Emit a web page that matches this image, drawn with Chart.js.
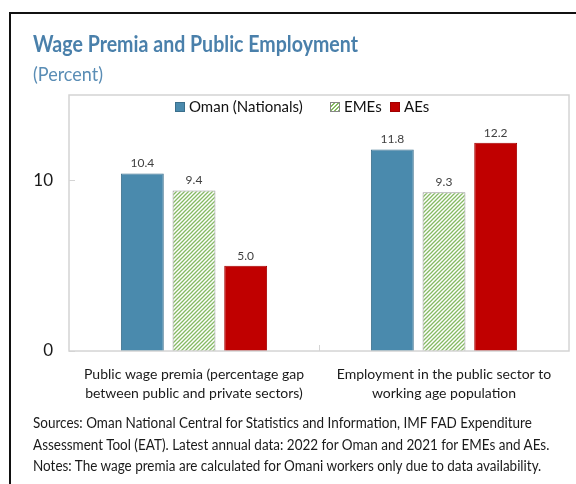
<!DOCTYPE html>
<html>
<head>
<meta charset="utf-8">
<script src="https://cdn.jsdelivr.net/npm/chart.js@4.4.1/dist/chart.umd.min.js"></script>
<style>
  html, body { margin: 0; padding: 0; background: #fff; }
  #wrap { position: relative; width: 576px; height: 484px; overflow: hidden; font-family: Lato, "Noto Sans", sans-serif; }
  #frame { position: absolute; left: 9px; top: 12px; width: 600px; height: 500px; border-left: 2px solid #111; border-top: 2px solid #111; }
  #chart { position: absolute; left: 0; top: 0; }
  .title { position: absolute; left: 33px; top: 30px; font-size: 22px; font-weight: 700; color: #4a80ab; white-space: nowrap; transform: scaleX(0.89); transform-origin: 0 0; }
  .subtitle { position: absolute; left: 33px; top: 61px; font-size: 20px; color: #5a8db5; white-space: nowrap; transform: scaleX(0.9); transform-origin: 0 0; }
  .legend { position: absolute; left: 0; top: 98px; width: 576px; font-size: 15px; color: #111; white-space: nowrap; }
  .legend .item { position: absolute; top: 0; }
  .legend .sw { position: absolute; top: 4px; width: 10px; height: 10px; box-sizing: border-box; }
  .legend .txt { position: absolute; left: 14px; top: -1px; }
  .notes { position: absolute; left: 33px; top: 412px; font-size: 14.5px; line-height: 21.5px; color: #1a1a1a; white-space: nowrap; transform: scaleX(0.93); transform-origin: 0 0; }
</style>
</head>
<body>
<div id="wrap">
  <canvas id="chart" width="576" height="484"></canvas>
  <div id="frame"></div>
  <div class="title">Wage Premia and Public Employment</div>
  <div class="subtitle">(Percent)</div>
  <div class="legend">
    <div class="item" style="left:175px"><span class="sw" style="background:#4a8aad;border:1px solid #3b6f8c"></span><span class="txt">Oman (Nationals)</span></div>
    <div class="item" style="left:330px"><span class="sw" style="border:1px solid #888;background:repeating-linear-gradient(135deg,#fff 0 1.5px,#86ba64 1.5px 3px)"></span><span class="txt">EMEs</span></div>
    <div class="item" style="left:390px"><span class="sw" style="background:#c00000;border:1px solid #a00000"></span><span class="txt">AEs</span></div>
  </div>
  <div class="notes">
    Sources: Oman National Central for Statistics and Information, IMF FAD Expenditure<br>
    Assessment Tool (EAT). Latest annual data: 2022 for Oman and 2021 for EMEs and AEs.<br>
    Notes: The wage premia are calculated for Omani workers only due to data availability.
  </div>
</div>
<script>
  const categories = [
    ["Public wage premia (percentage gap", "between public and private sectors)"],
    ["Employment in the public sector to", "working age population"]
  ];
  const omanValues = [10.4, 11.8];
  const emeValues = [9.4, 9.3];
  const aeValues = [5.0, 12.2];
  const yTicks = [0, 10];

  const FONT = "Lato, 'Noto Sans', sans-serif";

  // diagonal green hatch for the EME bars
  function hatch() {
    const p = document.createElement("canvas");
    p.width = 4; p.height = 4;
    const c = p.getContext("2d");
    c.fillStyle = "#fff";
    c.fillRect(0, 0, 4, 4);
    c.strokeStyle = "#86ba64";
    c.lineWidth = 1.3;
    c.beginPath();
    c.moveTo(-1, 5); c.lineTo(5, -1);
    c.moveTo(-1, 1); c.lineTo(1, -1);
    c.moveTo(3, 5); c.lineTo(5, 3);
    c.stroke();
    return c.createPattern(p, "repeat");
  }

  const GRID = "#d4d4d4";

  // plot frame and inward tick marks
  const frame = {
    id: "frame",
    afterDraw(chart) {
      const { ctx, chartArea: a, scales } = chart;
      ctx.save();
      ctx.strokeStyle = GRID;
      ctx.lineWidth = 1.5;
      ctx.strokeRect(a.left, a.top, a.right - a.left, a.bottom - a.top);
      ctx.lineWidth = 1;
      ctx.beginPath();
      yTicks.forEach((v) => {
        const y = Math.round(scales.y.getPixelForValue(v)) + 0.5;
        ctx.moveTo(a.left, y); ctx.lineTo(a.left + 6, y);
      });
      const mid = Math.round((a.left + a.right) / 2) + 0.5;
      ctx.moveTo(mid, a.bottom); ctx.lineTo(mid, a.bottom - 6);
      ctx.stroke();
      ctx.restore();
    }
  };

  // value labels above each bar
  const valueLabels = {
    id: "valueLabels",
    afterDatasetsDraw(chart) {
      const { ctx } = chart;
      ctx.save();
      ctx.font = "12px " + FONT;
      ctx.fillStyle = "#404040";
      ctx.textAlign = "center";
      ctx.textBaseline = "bottom";
      chart.data.datasets.forEach((ds, i) => {
        chart.getDatasetMeta(i).data.forEach((bar, j) => {
          ctx.fillText(ds.data[j].toFixed(1), bar.x, bar.y - 4);
        });
      });
      ctx.restore();
    }
  };

  const barOpts = { barPercentage: 0.83, categoryPercentage: 0.62, borderWidth: 1 };

  new Chart(document.getElementById("chart"), {
    type: "bar",
    data: {
      labels: categories,
      datasets: [
        { label: "Oman (Nationals)", data: omanValues, backgroundColor: "#4a8aad", borderColor: "#3b6f8c", ...barOpts },
        { label: "EMEs", data: emeValues, backgroundColor: hatch(), borderColor: "#999", ...barOpts },
        { label: "AEs", data: aeValues, backgroundColor: "#c00000", borderColor: "#a80000", ...barOpts }
      ]
    },
    options: {
      responsive: false,
      animation: false,
      layout: { padding: { left: 0, top: 95, right: 7, bottom: 0 } },
      plugins: { legend: { display: false }, tooltip: { enabled: false } },
      scales: {
        x: {
          grid: { display: false, drawTicks: false },
          border: { display: false },
          ticks: { color: "#1a1a1a", padding: 14, font: { size: 14, family: FONT, lineHeight: 1.38 } },
          afterFit: (s) => { s.height = 133; }
        },
        y: {
          min: 0,
          max: 15,
          grid: { display: false, drawTicks: false },
          border: { display: false },
          afterBuildTicks: (s) => { s.ticks = yTicks.map((v) => ({ value: v })); },
          ticks: { color: "#1a1a1a", padding: 16, font: { size: 17, family: FONT } },
          afterFit: (s) => { s.width = 69; }
        }
      }
    },
    plugins: [frame, valueLabels]
  });
</script>
</body>
</html>
